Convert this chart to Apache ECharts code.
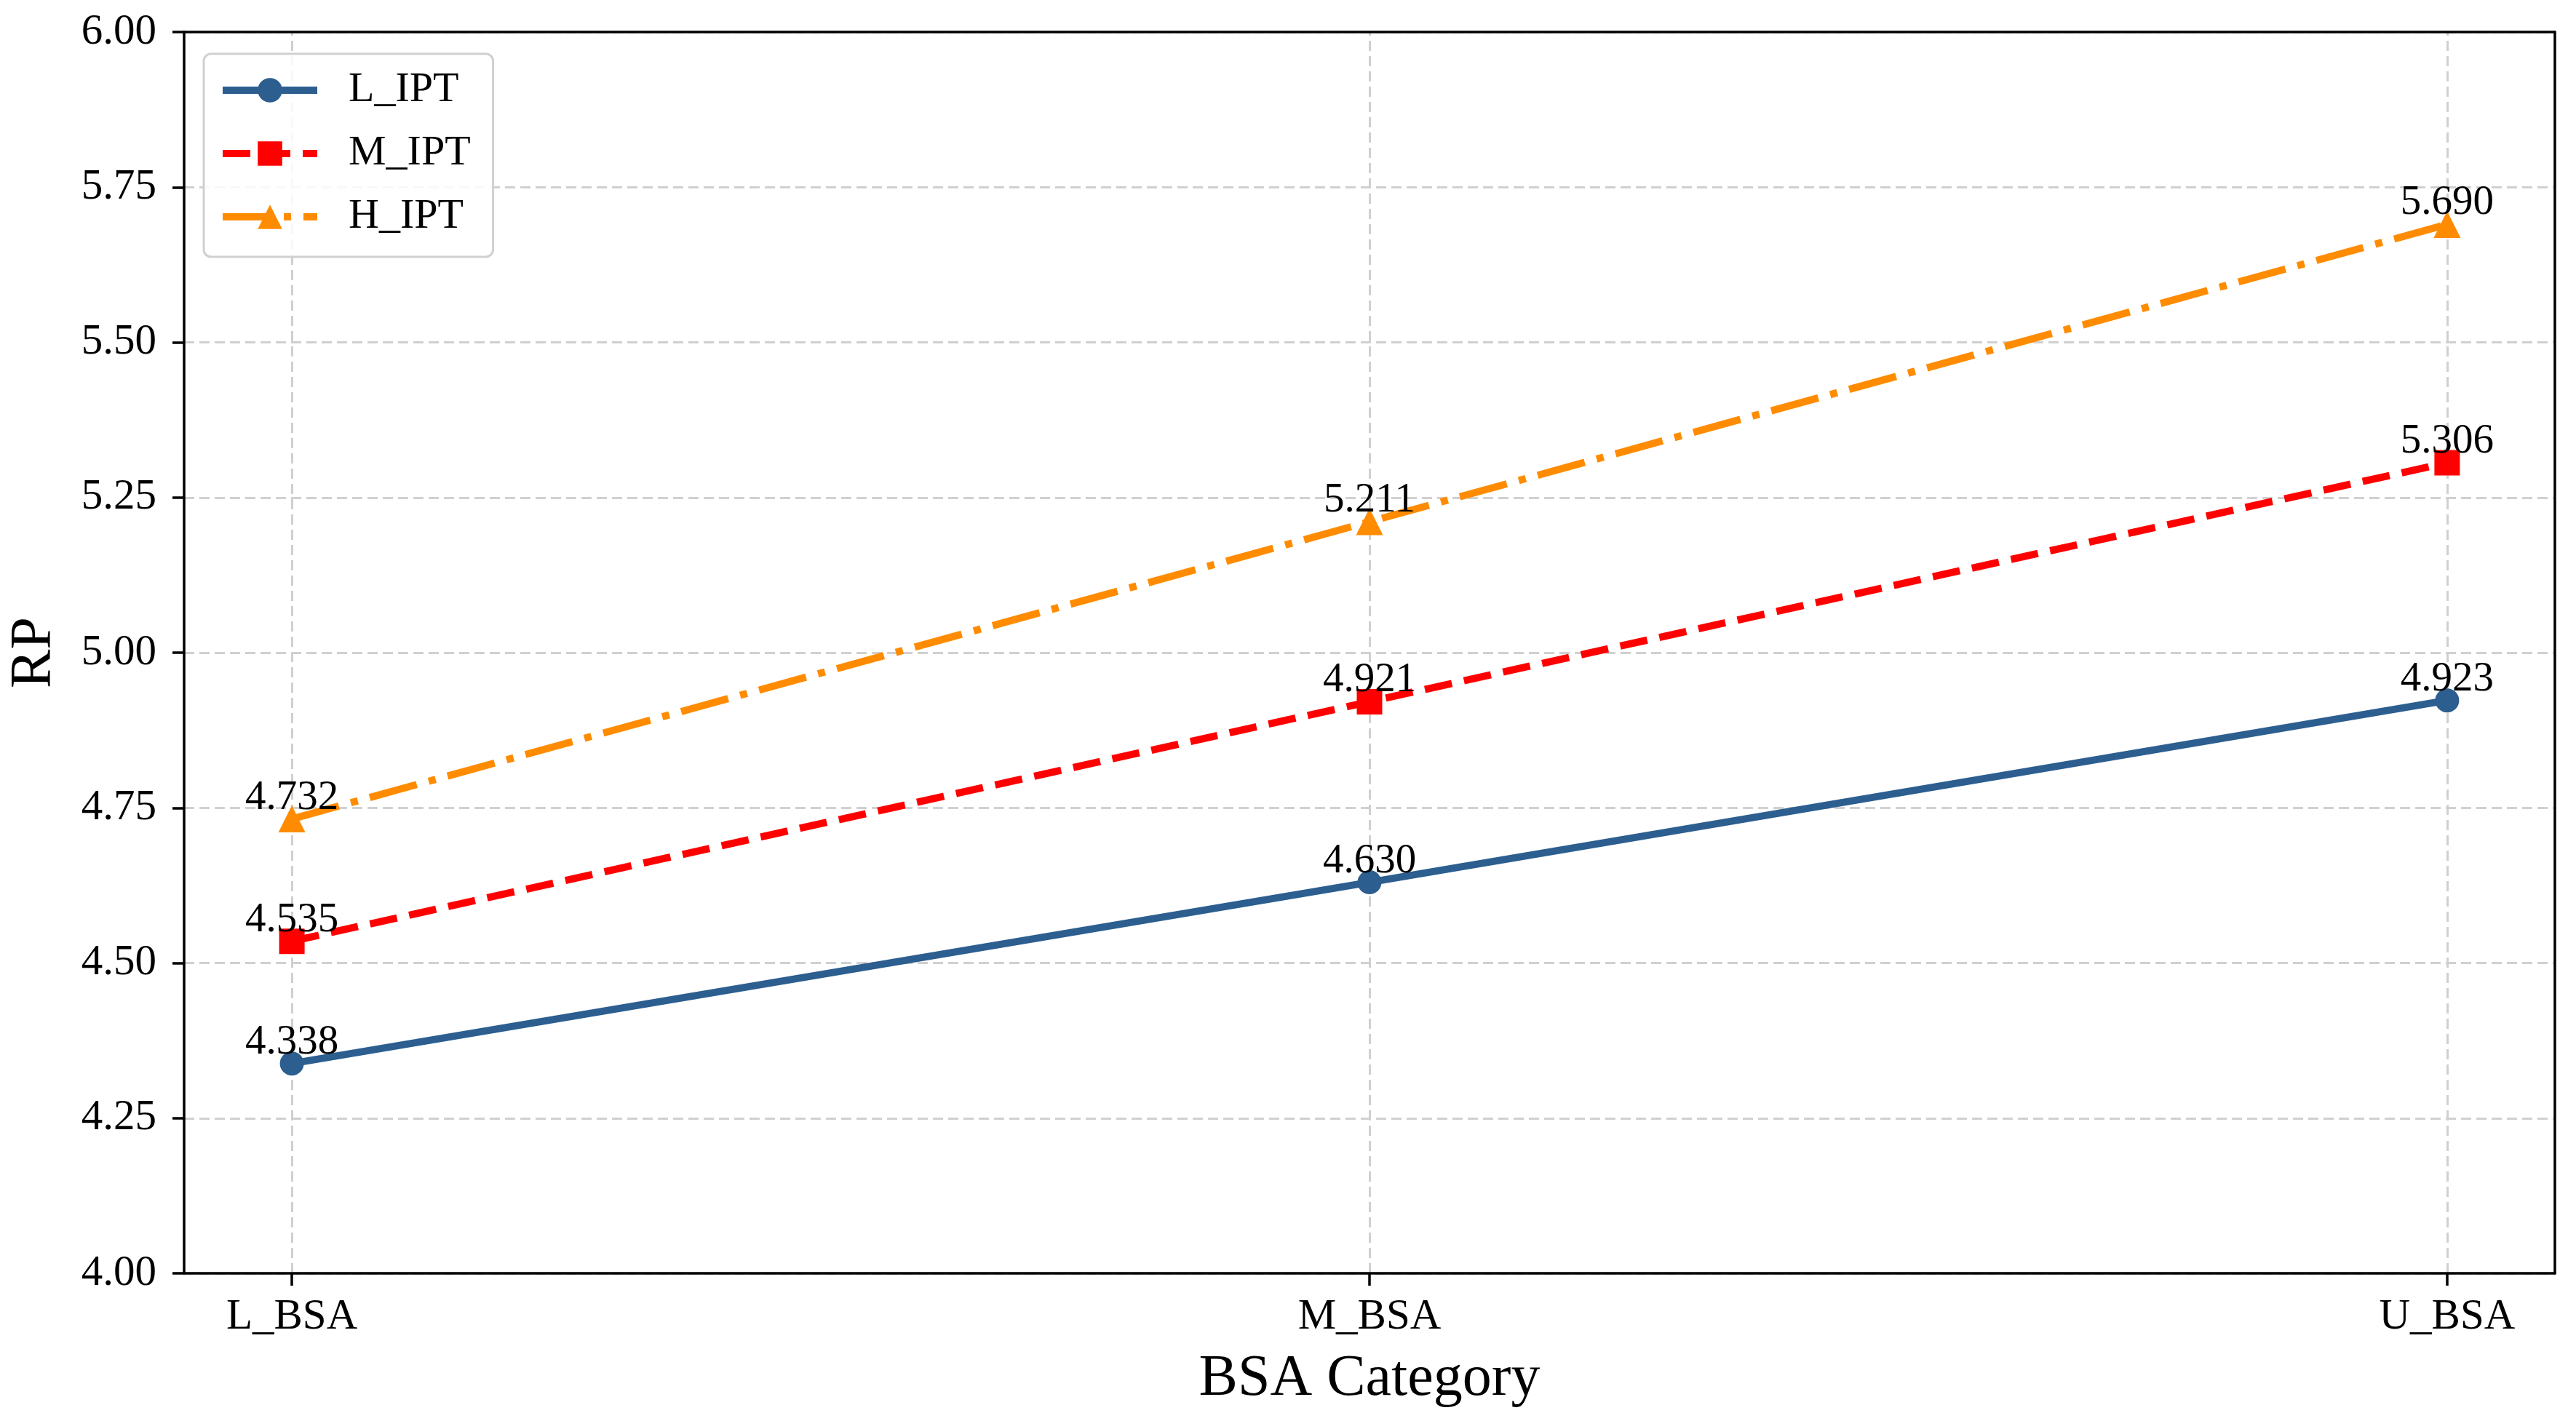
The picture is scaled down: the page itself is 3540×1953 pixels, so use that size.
<!DOCTYPE html>
<html>
<head>
<meta charset="utf-8">
<script src="https://cdn.jsdelivr.net/npm/echarts@6/dist/echarts.min.js"></script>
<style>
html, body { margin: 0; padding: 0; background: #ffffff; }
#chart { width: 3540px; height: 1953px; }
</style>
</head>
<body>
<div id="chart"></div>
<script>
const categories = ['L_BSA', 'M_BSA', 'U_BSA'];
const seriesNames = ['L_IPT', 'M_IPT', 'H_IPT'];
const L_IPT = [4.338, 4.630, 4.923];
const M_IPT = [4.535, 4.921, 5.306];
const H_IPT = [4.732, 5.211, 5.690];
const yTicks = [4.00, 4.25, 4.50, 4.75, 5.00, 5.25, 5.50, 5.75, 6.00];
const xTickIdx = [0, 1, 2];

const FONT = "'Liberation Serif', 'Times New Roman', serif";
const BLUE = '#2c5e8f', RED = '#ff0000', ORANGE = '#ff8c00';
const GRID_STYLE = { color: '#d0d0d0', width: 3, type: [14, 7] };
const SPINE = { color: '#000000', width: 3.5 };
const Y_MIN = yTicks[0], Y_MAX = yTicks[yTicks.length - 1], Y_STEP = yTicks[1] - yTicks[0];

function pts(vals) { return vals.map((v, i) => [i, v]); }

function labelCfg(dist) {
  return {
    show: true, position: 'top', distance: dist,
    formatter: p => p.value[1].toFixed(3),
    fontFamily: FONT, fontSize: 57, color: '#000000'
  };
}

const chart = echarts.init(document.getElementById('chart'), null, { renderer: 'canvas' });
chart.setOption({
  backgroundColor: '#ffffff',
  animation: false,
  grid: { left: 251, right: 29, top: 44, bottom: 203, show: false },
  legend: {
    orient: 'vertical', left: 280, top: 74,
    data: seriesNames,
    itemWidth: 130, itemHeight: 42, itemGap: 29,
    padding: [21, 31, 26, 21],
    backgroundColor: 'rgba(255,255,255,0.85)',
    borderColor: '#d0d0d0', borderWidth: 3, borderRadius: 10,
    lineStyle: { width: 10 },
    textStyle: { fontFamily: FONT, fontSize: 58, color: '#000000', padding: [0, 0, 0, 38] },
    z: 12
  },
  xAxis: [
    {
      type: 'value', min: -0.1, max: 2.1, position: 'bottom',
      name: 'BSA Category', nameLocation: 'middle', nameGap: 106,
      nameTextStyle: { fontFamily: FONT, fontSize: 80, color: '#000000' },
      axisLine: { show: true, onZero: false, lineStyle: SPINE },
      axisTick: { show: true, customValues: xTickIdx, length: 17, lineStyle: SPINE },
      axisLabel: {
        customValues: xTickIdx, margin: 31,
        formatter: v => categories[Math.round(v)],
        fontFamily: FONT, fontSize: 59, color: '#000000'
      },
      splitLine: { show: false },
      z: 10
    },
    {
      type: 'value', min: -0.1, max: 2.1, position: 'top',
      axisLine: { show: true, onZero: false, lineStyle: SPINE },
      axisTick: { show: false }, axisLabel: { show: false }, splitLine: { show: false },
      z: 10
    }
  ],
  yAxis: [
    {
      type: 'value', min: Y_MIN, max: Y_MAX, interval: Y_STEP, position: 'left',
      name: 'RP', nameLocation: 'middle', nameGap: 165,
      nameTextStyle: { fontFamily: FONT, fontSize: 80, color: '#000000' },
      axisLine: { show: true, onZero: false, lineStyle: SPINE },
      axisTick: { show: true, length: 16, lineStyle: SPINE },
      axisLabel: {
        margin: 38, formatter: v => v.toFixed(2),
        fontFamily: FONT, fontSize: 59, color: '#000000'
      },
      splitLine: { show: false },
      z: 10
    },
    {
      type: 'value', min: Y_MIN, max: Y_MAX, position: 'right',
      axisLine: { show: true, onZero: false, lineStyle: SPINE },
      axisTick: { show: false }, axisLabel: { show: false }, splitLine: { show: false },
      z: 10
    },
    {
      type: 'value', min: Y_MIN, max: Y_MAX, interval: Y_STEP, position: 'right',
      axisLine: { show: false }, axisTick: { show: false }, axisLabel: { show: false },
      splitLine: { show: true, lineStyle: GRID_STYLE },
      z: 0
    }
  ],
  series: [
    {
      name: seriesNames[0], type: 'line', z: 3, data: pts(L_IPT),
      symbol: 'circle', symbolSize: 33,
      lineStyle: { color: BLUE, width: 10 }, itemStyle: { color: BLUE },
      label: labelCfg(-16),
      markLine: {
        silent: true, symbol: 'none', z: 1, animation: false,
        label: { show: false },
        lineStyle: GRID_STYLE,
        emphasis: { disabled: true },
        data: xTickIdx.map(i => ({ xAxis: i }))
      }
    },
    {
      name: seriesNames[1], type: 'line', z: 3, data: pts(M_IPT),
      symbol: 'rect', symbolSize: 35,
      lineStyle: { color: RED, width: 10, type: [38, 17] }, itemStyle: { color: RED },
      label: labelCfg(-17)
    },
    {
      name: seriesNames[2], type: 'line', z: 3, data: pts(H_IPT),
      symbol: 'triangle', symbolSize: 37,
      lineStyle: { color: ORANGE, width: 10, type: [67, 17, 10, 17] }, itemStyle: { color: ORANGE },
      label: labelCfg(-18)
    }
  ]
});
</script>
</body>
</html>
